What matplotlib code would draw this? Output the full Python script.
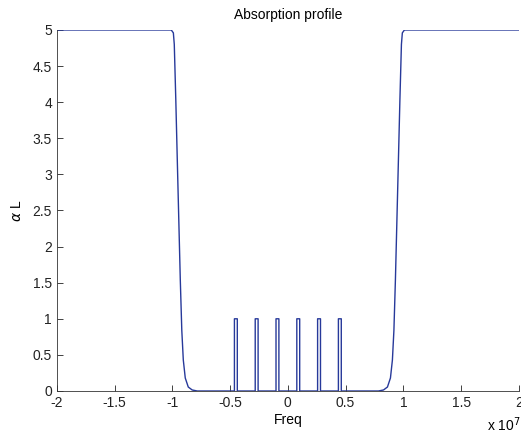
import numpy as np
import matplotlib.pyplot as plt

# left absorption edge (Hz, alpha*L)
left_freq = [-2.0e7, -1.009e7, -0.991e7, -0.983e7, -0.970e7, -0.957e7, -0.944e7,
             -0.931e7, -0.918e7, -0.905e7, -0.888e7, -0.862e7, -0.828e7, -0.784e7]
left_val = [5.0, 5.0, 4.96, 4.8, 4.04, 3.2, 2.37, 1.54, 0.84, 0.43, 0.18, 0.055, 0.014, 0.0]

# right absorption edge
right_freq = [0.784e7, 0.828e7, 0.862e7, 0.888e7, 0.905e7, 0.918e7, 0.931e7,
              0.944e7, 0.957e7, 0.970e7, 0.983e7, 0.991e7, 1.009e7, 2.0e7]
right_val = [0.0, 0.014, 0.055, 0.18, 0.43, 0.84, 1.54, 2.37, 3.2, 4.04, 4.8, 4.96, 5.0, 5.0]

# narrow transparency-window peaks
spike_centers = [-0.45e7, -0.27e7, -0.09e7, 0.09e7, 0.27e7, 0.45e7]
spike_height = 1.0
spike_width = 0.025e7

xticks = [-2e7, -1.5e7, -1e7, -0.5e7, 0, 0.5e7, 1e7, 1.5e7, 2e7]
xticklabels = ['-2', '-1.5', '-1', '-0.5', '0', '0.5', '1', '1.5', '2']
yticks = [0, 0.5, 1, 1.5, 2, 2.5, 3, 3.5, 4, 4.5, 5]
yticklabels = ['0', '0.5', '1', '1.5', '2', '2.5', '3', '3.5', '4', '4.5', '5']

# build one continuous profile
freq = list(left_freq)
val = list(left_val)
for c in spike_centers:
    lo, hi = c - spike_width / 2, c + spike_width / 2
    freq += [lo, lo, hi, hi]
    val += [0.0, spike_height, spike_height, 0.0]
freq += right_freq
val += right_val

plt.rcParams['font.family'] = ['Liberation Sans', 'DejaVu Sans']

fig = plt.figure(figsize=(5.21, 4.41), dpi=100)
ax = fig.add_axes([0.109, 0.1134, 0.887, 0.8186])

ax.plot(freq, val, color='#27399a', lw=1.0)

ax.set_xlim(-2e7, 2e7)
ax.set_ylim(0, 5)
ax.set_xticks(xticks)
ax.set_xticklabels(xticklabels)
ax.set_yticks(yticks)
ax.set_yticklabels(yticklabels)
ax.tick_params(direction='in', length=4, width=0.6, labelsize=10, colors='#222222')
for s in ['top', 'right']:
    ax.spines[s].set_visible(False)
for s in ['left', 'bottom']:
    ax.spines[s].set_linewidth(0.6)
    ax.spines[s].set_color('#333333')

ax.set_title('Absorption profile', fontsize=10, pad=8)
ax.set_xlabel('Freq', fontsize=10, labelpad=2)
ax.set_ylabel(r'$\alpha$ L', fontsize=10, labelpad=6)
fig.text(0.968, 0.036, r'x 10$^{7}$', fontsize=10, ha='center', va='center')

fig.savefig('out.png', dpi=100)
